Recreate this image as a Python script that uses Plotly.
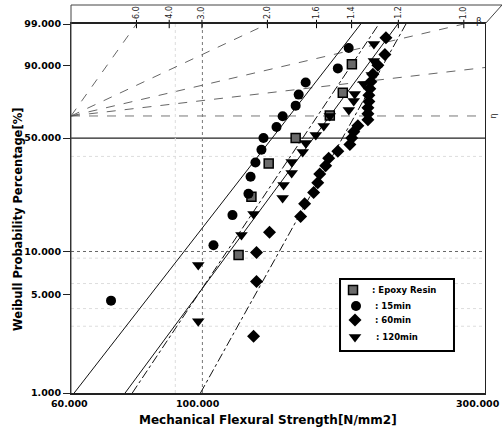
import numpy as np
import plotly.graph_objects as go

# ---------------- data ----------------
series_names = [": Epoxy Resin", ": 15min", ": 60min", ": 120min"]

epoxy_strength = [115.1, 121.0, 129.4, 143.7, 164.1, 172.6, 178.8]
epoxy_prob = [9.46, 22.97, 36.49, 50.00, 63.51, 77.03, 90.54]

min15_strength = [70.1, 104.4, 112.4, 119.6, 120.6, 122.9, 125.8, 126.8,
                  133.4, 136.6, 143.7, 145.4, 149.4, 169.3, 176.6]
min15_prob = [4.55, 11.04, 17.53, 24.03, 30.52, 37.01, 43.51, 50.00,
              56.49, 62.99, 69.48, 75.97, 82.47, 88.96, 95.45]

min60_strength = [122.0, 123.4, 123.4, 129.8, 146.5, 148.8, 154.1, 156.6, 157.8,
                  161.5, 163.4, 169.3, 177.4, 178.7, 180.1, 183.0, 190.3, 190.3,
                  190.3, 191.0, 191.0, 191.7, 192.5, 194.0, 197.8, 203.3, 204.1]
min60_prob = [2.55, 6.20, 9.85, 13.50, 17.15, 20.80, 24.45, 28.10, 31.75,
              35.40, 39.05, 42.70, 46.35, 50.00, 53.65, 57.30, 60.95, 64.60,
              68.25, 71.90, 75.55, 79.20, 82.85, 86.50, 90.15, 93.80, 97.45]

min120_strength = [98.4, 98.4, 116.4, 122.0, 136.6, 137.1, 141.5, 141.5, 147.7, 149.4,
                   155.4, 160.3, 164.1, 176.7, 180.1, 180.8, 187.3, 193.2, 194.8, 194.8]
min120_prob = [3.26, 8.07, 12.92, 17.81, 22.58, 27.21, 32.13, 37.20, 42.27, 47.14,
               51.73, 57.10, 63.20, 66.81, 72.24, 76.28, 81.71, 86.11, 91.70, 96.33]

# Weibull fit lines (beta, eta) per series
fit_beta = [6.39, 5.50, 7.67, 5.78]
fit_eta = [156.4, 140.2, 180.8, 164.1]

# tick labels
y_tick_prob = [99, 90, 50, 10, 5, 1]
y_tick_text = ["99.000", "90.000", "50.000", "10.000", "5.000", "1.000"]
x_tick_vals = [60, 100, 300]
x_tick_text = ["60.000", "100.000", "300.000"]

# beta scale
scale_beta = [6.0, 4.0, 3.0, 2.0, 1.6, 1.4, 1.2, 1.0]
scale_text = ["6.0", "4.0", "3.0", "2.0", "1.6", "1.4", "1.2", "1.0"]
ref_beta = [6.0, 2.0, 1.0, 0.5]
pole_x = 60.0
faint_grid_prob = [40, 9, 6, 4, 3]

# ---------------- helpers ----------------
def wy(p):
    p = np.asarray(p, dtype=float) / 100.0
    return np.log(-np.log(1.0 - p))

XMIN, XMAX = 60.0, 300.0
YMIN, YMAX = float(wy(1)), float(wy(99))
FONT = "DejaVu Sans"

fig = go.Figure()

def line(xs, ys, color="black", width=1, dash="solid"):
    fig.add_trace(go.Scatter(x=xs, y=ys, mode="lines", showlegend=False,
                             hoverinfo="skip",
                             line=dict(color=color, width=width, dash=dash)))

shapes = []
def hline(yv, color, width, dash):
    shapes.append(dict(type="line", xref="paper", yref="y", x0=0, x1=1, y0=yv, y1=yv,
                       layer="below", line=dict(color=color, width=width, dash=dash)))

# horizontal grid / reference lines
for p in faint_grid_prob:
    hline(float(wy(p)), "#dddddd", 1, "dot")
hline(float(wy(10)), "#666", 1, "dot")
hline(float(wy(50)), "#222", 1.2, "solid")
hline(0.0, "#777", 1, "dash")

# vertical grid lines
line([100, 100], [YMIN, YMAX], color="#777", width=1, dash="dot")
line([90, 90], [YMIN, YMAX], color="#dddddd", width=1, dash="dot")

# beta reference lines from the pole
for b in ref_beta:
    xe = min(XMAX, pole_x * np.exp(YMAX / b))
    line([pole_x, xe], [0.0, b * np.log(xe / pole_x)], color="#555", width=0.9, dash="dash")

# fit lines
fit_dash = ["dashdot", "solid", "dashdot", "solid"]
for b, e, d in zip(fit_beta, fit_eta, fit_dash):
    x0 = e * np.exp(YMIN / b)
    x1 = e * np.exp(YMAX / b)
    line([x0, x1], [YMIN, YMAX], color="#111", width=1, dash=d)

# data points
data = [(epoxy_strength, epoxy_prob), (min15_strength, min15_prob),
        (min60_strength, min60_prob), (min120_strength, min120_prob)]
markers = [dict(symbol="square", size=9, color="#6a6a6a", line=dict(color="black", width=1.5)),
           dict(symbol="circle", size=10, color="black"),
           dict(symbol="diamond", size=10, color="black"),
           dict(symbol="triangle-down", size=11, color="black")]
for name, (xs, ps), mk in zip(series_names, data, markers):
    fig.add_trace(go.Scatter(x=xs, y=wy(ps), mode="markers", name=name, marker=mk,
                             showlegend=False))

# pole marker
fig.add_trace(go.Scatter(x=[pole_x], y=[0.0], mode="markers", showlegend=False,
                         hoverinfo="skip", cliponaxis=False,
                         marker=dict(symbol="circle", size=9, color="black")))
# beta scale ticks on the 99% line
scale_x = [pole_x * np.exp(YMAX / b) for b in scale_beta]
fig.add_trace(go.Scatter(x=scale_x, y=[YMAX] * len(scale_x), mode="markers",
                         showlegend=False, hoverinfo="skip", cliponaxis=False,
                         marker=dict(symbol="line-ns-open", size=6, color="black",
                                     line=dict(color="black", width=1))))

# ---- legend drawn on an overlay axis (0..1 in plot-area units) ----
leg_box = (0.6498, 0.1138, 0.9251, 0.3089)
leg_sym_x = [0.6812, 0.6884, 0.6860, 0.6860]
leg_sym_y = [0.2791, 0.2358, 0.1978, 0.1518]
leg_txt_x = [0.7222, 0.7295, 0.7295, 0.7319]
shapes.append(dict(type="rect", xref="paper", yref="paper",
                   x0=leg_box[0], y0=leg_box[1], x1=leg_box[2], y1=leg_box[3],
                   layer="below", fillcolor="white", line=dict(color="black", width=2)))
for sx, sy, mk in zip(leg_sym_x, leg_sym_y, markers):
    fig.add_trace(go.Scatter(x=[sx], y=[sy], xaxis="x2", yaxis="y2", mode="markers",
                             showlegend=False, hoverinfo="skip", marker=dict(mk)))

annotations = []
for tx, sy, t in zip(leg_txt_x, leg_sym_y, series_names):
    annotations.append(dict(x=tx, y=sy, xref="paper", yref="paper", text=t,
                            showarrow=False, xanchor="left", yanchor="middle",
                            font=dict(family=FONT, size=8.5, color="black", weight="bold")))

for xv, t in zip(scale_x, scale_text):
    annotations.append(dict(x=np.log10(xv), y=YMAX, xref="x", yref="y", text=t,
                            textangle=-90, showarrow=False, yanchor="bottom",
                            yshift=3, font=dict(family=FONT, size=8, color="#222")))
annotations.append(dict(x=1.0, y=1.028, xref="paper", yref="paper", text="β",
                        showarrow=False, xanchor="right", xshift=-1,
                        font=dict(family=FONT, size=9, color="#222")))
annotations.append(dict(x=1.0, y=0.0, xref="paper", yref="y", text="η",
                        textangle=-90, showarrow=False, xanchor="left", xshift=2,
                        font=dict(family=FONT, size=8, color="#222")))
x_shifts = [-2, -4, -7]
for v, t, s in zip(x_tick_vals, x_tick_text, x_shifts):
    annotations.append(dict(x=np.log10(v), y=0, xref="x", yref="paper", text=t,
                            showarrow=False, yanchor="top", yshift=-3, xshift=s,
                            font=dict(family=FONT, size=9.5, color="black", weight="bold")))
annotations.append(dict(x=0.476, y=-0.072, xref="paper", yref="paper",
                        text="Mechanical Flexural Strength[N/mm2]", showarrow=False,
                        yanchor="middle",
                        font=dict(family=FONT, size=12, color="black", weight="bold")))
annotations.append(dict(x=-0.128, y=0.469, xref="paper", yref="paper",
                        text="Weibull Probability Percentage[%]", showarrow=False,
                        textangle=-90, xanchor="center", yanchor="middle",
                        font=dict(family=FONT, size=11.5, color="black", weight="bold")))

top_y = 388 / 369
shapes += [
    dict(type="line", xref="paper", yref="paper", x0=0, x1=431 / 414, y0=top_y, y1=top_y,
         line=dict(color="#444", width=1)),
    dict(type="line", xref="paper", yref="paper", x0=1, x1=431 / 414, y0=1, y1=top_y,
         line=dict(color="#444", width=1)),
    dict(type="line", xref="paper", yref="paper", x0=0, x1=0, y0=0, y1=top_y,
         line=dict(color="#444", width=1)),
]

fig.update_layout(
    width=502, height=429,
    margin=dict(l=71, r=17, t=24, b=36),
    plot_bgcolor="white", paper_bgcolor="white",
    font=dict(family=FONT, color="black"),
    xaxis=dict(type="log", range=[np.log10(XMIN), np.log10(XMAX)],
               showgrid=False, zeroline=False, showticklabels=False, ticks="",
               showline=True, linecolor="#222", linewidth=1.5, mirror=True),
    yaxis=dict(range=[YMIN, YMAX], tickmode="array",
               tickvals=[float(v) for v in wy(y_tick_prob)], ticktext=y_tick_text,
               showgrid=False, zeroline=False, ticks="outside", ticklen=7,
               tickcolor="#222", showline=True, linecolor="#222", linewidth=1.2,
               mirror=True,
               tickfont=dict(family=FONT, size=9.5, color="black", weight="bold")),
    xaxis2=dict(range=[0, 1], overlaying="x", anchor="y2", visible=False, fixedrange=True),
    yaxis2=dict(range=[0, 1], overlaying="y", anchor="x2", visible=False, fixedrange=True),
    annotations=annotations,
    shapes=shapes,
    showlegend=False,
)

fig.write_html("out.html", config={"displayModeBar": False},
               post_script="document.body.style.margin='0';")
